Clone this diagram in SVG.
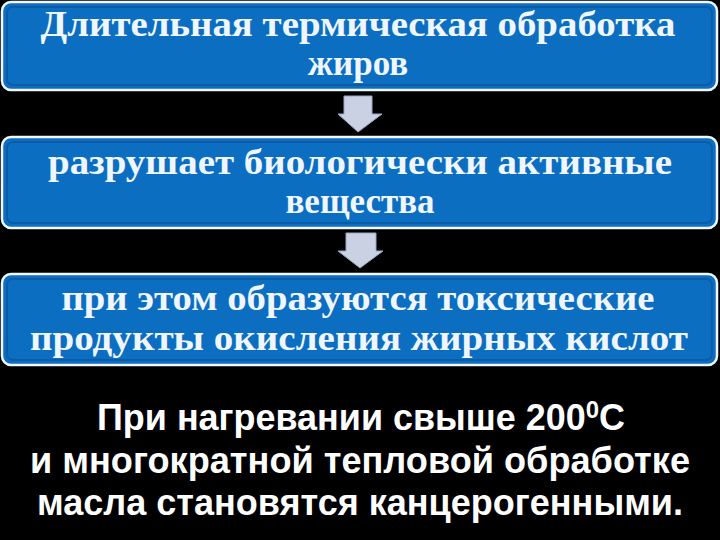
<svg xmlns="http://www.w3.org/2000/svg" width="720" height="540" viewBox="0 0 720 540">
<defs>
<style>
.box{fill:#0B6EC1;stroke:#F2F7FF;stroke-width:2.5}
.inner{fill:none;stroke:#0A5CA6;stroke-width:2}
.bt{font-family:"Liberation Serif","DejaVu Serif",serif;font-weight:bold;font-size:35px;fill:#F0F6FF;text-anchor:middle}
.ft{font-family:"Liberation Sans","Arial",sans-serif;font-weight:bold;font-size:36px;fill:#FFFFFF;text-anchor:middle}
.arr{fill:#C9D1E3;stroke:#9AA6C2;stroke-width:1}
</style>
</defs>
<rect width="720" height="540" fill="#000000"/>
<g id="node1">
<rect class="box" x="2" y="2" width="715" height="88" rx="9"/>
<rect class="inner" x="7" y="7" width="705" height="78" rx="6"/>
<text class="bt" x="358" y="36" textLength="635" lengthAdjust="spacingAndGlyphs">Длительная термическая обработка</text>
<text class="bt" x="358" y="75">жиров</text>
</g>
<g id="node2">
<rect class="box" x="2" y="137" width="715" height="91" rx="9"/>
<rect class="inner" x="7" y="142" width="705" height="81" rx="6"/>
<text class="bt" x="360" y="174" textLength="624" lengthAdjust="spacingAndGlyphs">разрушает биологически активные</text>
<text class="bt" x="360" y="213">вещества</text>
</g>
<g id="node3">
<rect class="box" x="2" y="274" width="715" height="91" rx="9"/>
<rect class="inner" x="7" y="279" width="705" height="81" rx="6"/>
<text class="bt" x="358" y="310" textLength="593" lengthAdjust="spacingAndGlyphs">при этом образуются токсические</text>
<text class="bt" x="359" y="350" textLength="658" lengthAdjust="spacingAndGlyphs">продукты окисления жирных кислот</text>
</g>
<g id="connectors">
<polygon class="arr" points="344,96 372,96 372,114 382,114 358,132 338,114 344,114"/>
<polygon class="arr" points="346,233 376,233 376,251 383,251 360,268 338,251 346,251"/>
</g>
<g id="note">
<text class="ft" x="361" y="430" textLength="528" lengthAdjust="spacingAndGlyphs">При нагревании свыше 200<tspan font-size="24" baseline-shift="12">0</tspan>С</text>
<text class="ft" x="360" y="473" textLength="660" lengthAdjust="spacingAndGlyphs">и многократной тепловой обработке</text>
<text class="ft" x="360" y="515" textLength="646" lengthAdjust="spacingAndGlyphs">масла становятся канцерогенными.</text>
</g>
</svg>
